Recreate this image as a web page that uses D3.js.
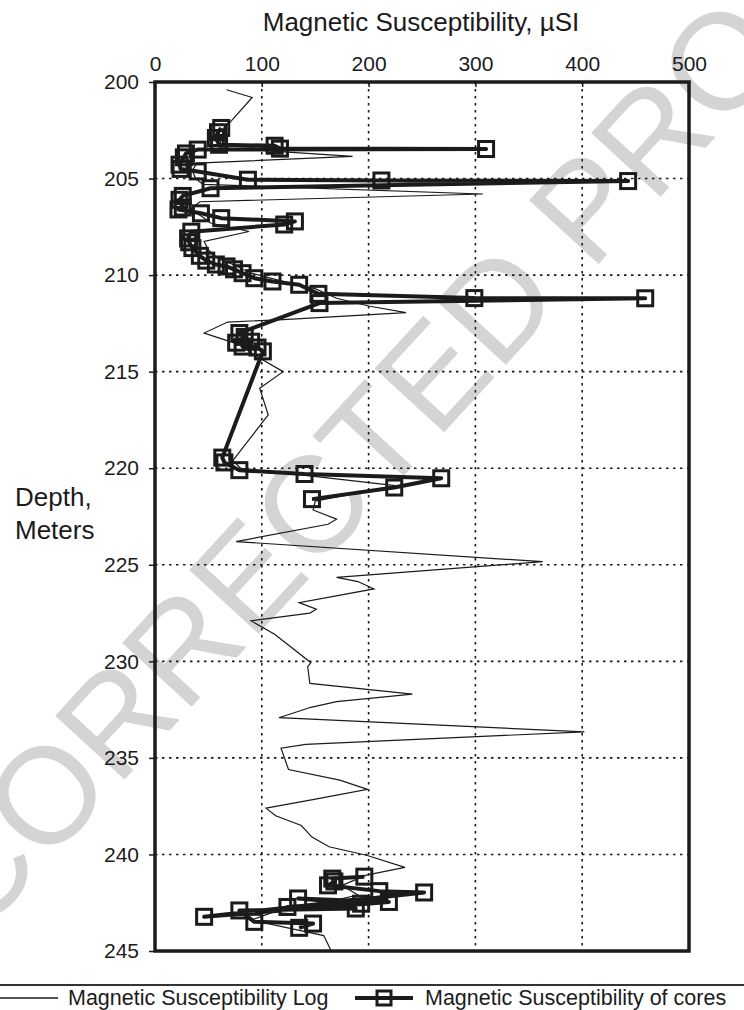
<!DOCTYPE html>
<html>
<head>
<meta charset="utf-8">
<script src="https://cdn.jsdelivr.net/npm/d3@7"></script>
<style>
  html, body { margin: 0; padding: 0; background: #fff; }
  svg { display: block; font-family: "Liberation Sans", Arial, Helvetica, sans-serif; }
</style>
</head>
<body>
<svg id="chart" width="744" height="1010"></svg>
<script>
// ---- data -------------------------------------------------------------
const susceptibilityTicks = [0, 100, 200, 300, 400, 500];
const depthTicks = [200, 205, 210, 215, 220, 225, 230, 235, 240, 245];

// downhole log (depth in m, susceptibility in µSI)
const logDepth = [200.4, 200.8, 202.1, 202.6, 203.0, 203.4, 203.85, 204.2, 204.6, 205.0,
  205.3, 205.8, 206.2, 206.6, 207.0, 207.3, 207.74, 208.26, 208.7, 209.1,
  209.5, 209.9, 210.3, 210.7, 211.2, 211.6, 211.94, 212.3, 212.43, 213.0,
  213.6, 214.2, 215.0, 215.86, 217.24, 219.6, 220.0, 220.4, 220.9, 221.7,
  222.16, 222.64, 222.9, 223.8, 224.84, 225.65, 225.87, 226.25, 226.96, 227.3,
  227.5, 227.9, 228.6, 230.07, 230.28, 231.14, 231.7, 232.09, 232.38, 232.92,
  233.65, 234.3, 234.5, 235.6, 236.15, 236.63, 237.15, 237.6, 238.0, 238.5,
  239.1, 239.6, 240.04, 240.67, 241.07, 241.6, 242.1, 242.6, 243.0, 243.4,
  244.2, 245.0];
const logValue = [67, 91, 70, 60, 62, 60, 185, 39, 35, 38,
  45, 307, 42, 33, 45, 52, 88, 46, 50, 58,
  75, 90, 118, 150, 170, 200, 235, 120, 68, 46,
  79, 95, 120, 98, 106, 73, 80, 145, 225, 150,
  148, 170, 162, 76, 363, 170, 190, 205, 135, 151,
  145, 90, 112, 146, 143, 145, 241, 170, 146, 116,
  402, 141, 118, 125, 173, 199, 149, 104, 113, 137,
  147, 163, 198, 234, 198, 175, 190, 150, 110, 90,
  158, 165];

// core measurements, upper cored interval (in measurement order)
const coreUpperDepth = [202.38, 202.6, 202.9, 203.25, 203.3, 203.45, 203.47, 203.5, 203.7, 203.9,
  204.28, 204.5, 204.63, 205.06, 205.1, 205.13, 205.5, 205.9, 206.1, 206.5,
  206.6, 206.8, 207.05, 207.22, 207.38, 207.75, 208.1, 208.3, 208.6, 209.0,
  209.25, 209.45, 209.55, 209.7, 209.9, 210.16, 210.33, 210.5, 210.97, 211.19,
  211.2, 211.45, 213.0, 213.2, 213.5, 213.45, 213.7, 213.75, 213.95, 219.45,
  219.7, 220.1, 220.3, 220.52, 221.0, 221.6];
const coreUpperValue = [62, 59, 57, 60, 112, 117, 310, 40, 29, 27,
  23, 24, 40, 87, 212, 443, 52, 26, 23, 26,
  22, 43, 62, 131, 121, 34, 31, 32, 35, 42,
  48, 57, 67, 74, 82, 93, 110, 135, 153, 299,
  459, 154, 79, 84, 76, 90, 82, 96, 101, 63,
  65, 79, 140, 268, 224, 147];

// core measurements, lower cored interval
const coreLowerDepth = [241.15, 241.25, 241.4, 241.6, 241.9, 241.97, 243.23, 242.46, 242.28, 242.55,
  242.72, 242.8, 242.9, 243.49, 243.58, 243.8];
const coreLowerValue = [196, 166, 168, 162, 210, 252, 46, 219, 134, 193,
  124, 188, 79, 93, 148, 135];

// ---- drawing ----------------------------------------------------------
const W = 744, H = 1010;
const plot = { left: 155, right: 689, top: 82, bottom: 951 };
const ink = "#1b1b1b";

const svg = d3.select("#chart");
svg.append("rect").attr("width", W).attr("height", H).attr("fill", "#fff");

const x = d3.scaleLinear().domain([0, 500]).range([plot.left, plot.right]);
const y = d3.scaleLinear().domain([200, 245]).range([plot.top, plot.bottom]);

// proof watermark
svg.append("text")
  .attr("transform", "translate(-22,939) rotate(-47.4)")
  .attr("font-size", 137)
  .attr("fill", "#d4d4d4")
  .text("CORRECTED PROOF");

// dotted grid
const grid = svg.append("g").attr("stroke", ink).attr("stroke-width", 1.6)
  .attr("stroke-dasharray", "2.5,4.5");
grid.selectAll("line.v").data(susceptibilityTicks.slice(1, -1)).join("line")
  .attr("x1", d => x(d)).attr("x2", d => x(d))
  .attr("y1", plot.top).attr("y2", plot.bottom);
grid.selectAll("line.h").data(depthTicks.slice(1, -1)).join("line")
  .attr("x1", plot.left).attr("x2", plot.right)
  .attr("y1", d => y(d)).attr("y2", d => y(d));

// log curve
const logPts = logDepth.map((d, i) => [logValue[i], d]);
const line = d3.line().x(d => x(d[0])).y(d => y(d[1]));
svg.append("path").datum(logPts)
  .attr("d", line).attr("fill", "none")
  .attr("stroke", ink).attr("stroke-width", 1.2).attr("stroke-linejoin", "miter");

// core series
const coreRuns = [
  coreUpperDepth.map((d, i) => [coreUpperValue[i], d]),
  coreLowerDepth.map((d, i) => [coreLowerValue[i], d])
];
const sq = 15;
coreRuns.forEach(run => {
  svg.append("path").datum(run)
    .attr("d", line).attr("fill", "none")
    .attr("stroke", ink).attr("stroke-width", 4).attr("stroke-linejoin", "round");
  svg.append("g").selectAll("rect").data(run).join("rect")
    .attr("x", d => x(d[0]) - sq / 2).attr("y", d => y(d[1]) - sq / 2)
    .attr("width", sq).attr("height", sq)
    .attr("fill", "none").attr("stroke", ink).attr("stroke-width", 3);
});

// frame
svg.append("rect")
  .attr("x", plot.left).attr("y", plot.top)
  .attr("width", plot.right - plot.left).attr("height", plot.bottom - plot.top)
  .attr("fill", "none").attr("stroke", ink).attr("stroke-width", 3.5);

// axes
const topAxis = svg.append("g").attr("transform", `translate(0,${plot.top})`)
  .call(d3.axisTop(x).tickValues(susceptibilityTicks).tickSizeInner(-5).tickSizeOuter(0).tickPadding(11));
const leftAxis = svg.append("g").attr("transform", `translate(${plot.left},0)`)
  .call(d3.axisLeft(y).tickValues(depthTicks).tickSizeInner(6).tickSizeOuter(0).tickPadding(10));
[topAxis, leftAxis].forEach(g => {
  g.select(".domain").remove();
  g.selectAll(".tick line").attr("stroke", ink).attr("stroke-width", 1.5);
  g.selectAll(".tick text").attr("fill", ink).attr("font-size", 21)
    .attr("font-family", "'Liberation Sans', Arial, Helvetica, sans-serif");
});

// titles
svg.append("text").attr("x", 421).attr("y", 31).attr("text-anchor", "middle")
  .attr("font-size", 26).attr("fill", ink).text("Magnetic Susceptibility, \u00b5SI");
const depthLabel = svg.append("text").attr("font-size", 26).attr("fill", ink);
depthLabel.append("tspan").attr("x", 15).attr("y", 506).text("Depth,");
depthLabel.append("tspan").attr("x", 15).attr("y", 539).text("Meters");

// legend
svg.append("line").attr("x1", 0).attr("x2", W).attr("y1", 985).attr("y2", 985)
  .attr("stroke", "#333").attr("stroke-width", 2);
const ly = 998;
svg.append("line").attr("x1", 0).attr("x2", 58).attr("y1", ly).attr("y2", ly)
  .attr("stroke", ink).attr("stroke-width", 1.5);
svg.append("text").attr("x", 68).attr("y", ly + 7).attr("font-size", 21.5).attr("fill", ink)
  .text("Magnetic Susceptibility Log");
svg.append("line").attr("x1", 355).attr("x2", 413).attr("y1", ly).attr("y2", ly)
  .attr("stroke", ink).attr("stroke-width", 4);
svg.append("rect").attr("x", 384 - 7).attr("y", ly - 7).attr("width", 14).attr("height", 14)
  .attr("fill", "none").attr("stroke", ink).attr("stroke-width", 3);
svg.append("text").attr("x", 425).attr("y", ly + 7).attr("font-size", 21.5).attr("fill", ink)
  .text("Magnetic Susceptibility of cores");
</script>
</body>
</html>
